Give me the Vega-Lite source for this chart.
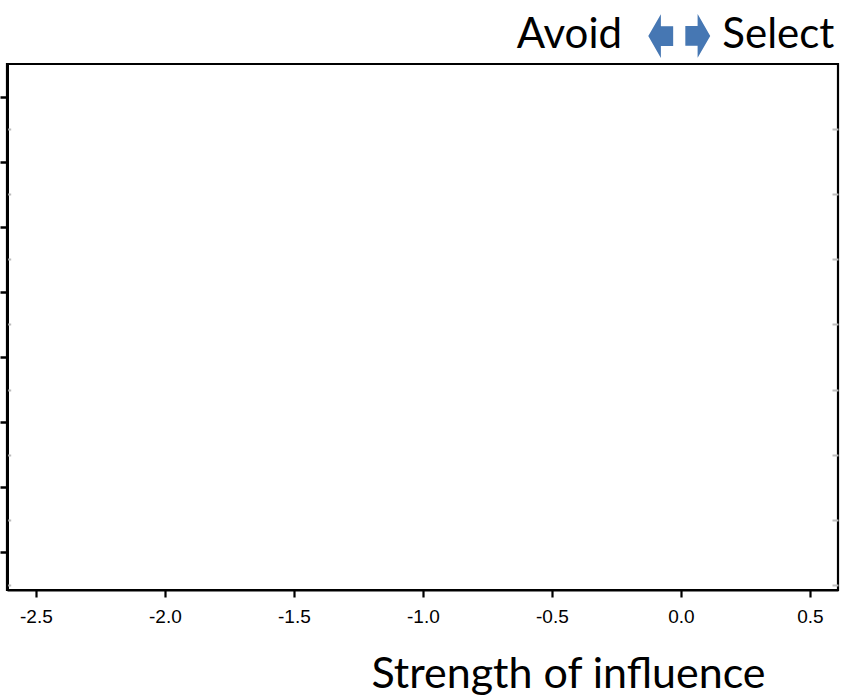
{
  "$schema": "https://vega.github.io/schema/vega-lite/v6.json",
  "width": 831,
  "height": 526,
  "autosize": {"type": "none"},
  "padding": {"left": 7, "top": 64, "right": 7, "bottom": 108},
  "background": "white",
  "config": {
    "view": {"stroke": "black", "strokeWidth": 2.2},
    "axis": {"grid": false}
  },
  "datasets": {
    "rows": [{"row": 1}, {"row": 2}, {"row": 3}, {"row": 4}, {"row": 5}, {"row": 6}, {"row": 7}, {"row": 8}],
    "header": [
      {"pos": -0.434, "text": "Avoid"},
      {"pos": -0.079, "text": "left arrow"},
      {"pos": 0.062, "text": "right arrow"},
      {"pos": 0.376, "text": "Select"}
    ]
  },
  "layer": [
    {
      "data": {"name": "rows"},
      "mark": {"type": "point", "opacity": 0},
      "encoding": {
        "x": {
          "datum": 0,
          "type": "quantitative",
          "scale": {"domain": [-2.612, 0.609], "nice": false, "zero": false},
          "axis": {
            "orient": "bottom",
            "values": [-2.5, -2.0, -1.5, -1.0, -0.5, 0.0, 0.5],
            "labelExpr": "replace(format(datum.value, '.1f'), '\u2212', '-')",
            "domainColor": "black",
            "domainWidth": 2.2,
            "tickColor": "black",
            "tickWidth": 2.2,
            "tickSize": 7,
            "labelFont": "Liberation Sans",
            "labelFontSize": 19,
            "labelColor": "black",
            "labelPadding": 10,
            "labelFlush": false,
            "title": "Strength of influence",
            "titleFont": "Lato",
            "titleFontSize": 43,
            "titleFontWeight": "normal",
            "titleColor": "black",
            "titleX": 561,
            "titleY": 97,
            "titleAlign": "center",
            "titleBaseline": "alphabetic"
          }
        },
        "y": {
          "field": "row",
          "type": "quantitative",
          "scale": {"domain": [0.493, 8.584], "reverse": true, "nice": false, "zero": false},
          "axis": {
            "orient": "left",
            "values": [1, 2, 3, 4, 5, 6, 7, 8],
            "labels": false,
            "title": null,
            "domainColor": "black",
            "domainWidth": 3,
            "tickColor": "black",
            "tickWidth": 2.5,
            "tickSize": 7
          }
        }
      }
    },
    {
      "data": {"name": "rows"},
      "mark": {"type": "point", "opacity": 0},
      "encoding": {
        "x": {
          "datum": 0,
          "type": "quantitative",
          "scale": {"domain": [-2.612, 0.609], "nice": false, "zero": false},
          "axis": null
        },
        "y": {
          "field": "row",
          "type": "quantitative",
          "scale": {"domain": [0.493, 8.584], "reverse": true, "nice": false, "zero": false},
          "axis": {
            "orient": "left",
            "values": [1.5, 2.5, 3.5, 4.5, 5.5, 6.5, 7.5, 8.5],
            "labels": false,
            "title": null,
            "domain": false,
            "offset": -3.7,
            "tickColor": "#bdbdbd",
            "tickWidth": 2,
            "tickSize": 3
          }
        }
      }
    },
    {
      "data": {"name": "rows"},
      "mark": {"type": "point", "opacity": 0},
      "encoding": {
        "x": {
          "datum": 0,
          "type": "quantitative",
          "scale": {"domain": [-2.612, 0.609], "nice": false, "zero": false},
          "axis": null
        },
        "y": {
          "field": "row",
          "type": "quantitative",
          "scale": {"domain": [0.493, 8.584], "reverse": true, "nice": false, "zero": false},
          "axis": {
            "orient": "right",
            "values": [1.5, 2.5, 3.5, 4.5, 5.5, 6.5, 7.5, 8.5],
            "labels": false,
            "title": null,
            "domain": false,
            "offset": -6,
            "tickColor": "#bdbdbd",
            "tickWidth": 2,
            "tickSize": 6
          }
        }
      }
    },
    {
      "data": {"name": "header"},
      "mark": {"type": "point", "opacity": 0},
      "encoding": {
        "x": {
          "field": "pos",
          "type": "quantitative",
          "scale": {"domain": [-2.612, 0.609], "nice": false, "zero": false},
          "axis": {
            "orient": "top",
            "values": [-0.434, 0.376],
            "labelExpr": "datum.value < 0 ? 'Avoid' : 'Select'",
            "domain": false,
            "ticks": false,
            "tickSize": 0,
            "labelPadding": 17,
            "labelBaseline": "alphabetic",
            "labelFlush": false,
            "labelOverlap": false,
            "labelBound": false,
            "labelFont": "Lato",
            "labelFontSize": 42,
            "labelColor": "black",
            "title": null
          }
        }
      }
    },
    {
      "data": {"name": "header"},
      "mark": {"type": "point", "opacity": 0},
      "encoding": {
        "x": {
          "field": "pos",
          "type": "quantitative",
          "scale": {"domain": [-2.612, 0.609], "nice": false, "zero": false},
          "axis": {
            "orient": "top",
            "values": [0.062],
            "labelExpr": "'➧'",
            "domain": false,
            "ticks": false,
            "tickSize": 0,
            "labelPadding": 28,
            "labelAlign": "center",
            "labelBaseline": "middle",
            "labelFlush": false,
            "labelOverlap": false,
            "labelBound": false,
            "labelFont": "DejaVu Sans",
            "labelFontSize": 68,
            "labelColor": "#4677b3",
            "title": null
          }
        }
      }
    },
    {
      "data": {"name": "header"},
      "mark": {"type": "point", "opacity": 0},
      "encoding": {
        "x": {
          "field": "pos",
          "type": "quantitative",
          "scale": {"domain": [-2.612, 0.609], "nice": false, "zero": false},
          "axis": {
            "orient": "top",
            "values": [-0.079],
            "labelExpr": "'➧'",
            "domain": false,
            "ticks": false,
            "tickSize": 0,
            "labelPadding": 30,
            "labelAngle": 180,
            "labelAlign": "center",
            "labelBaseline": "middle",
            "labelFlush": false,
            "labelOverlap": false,
            "labelBound": false,
            "labelFont": "DejaVu Sans",
            "labelFontSize": 68,
            "labelColor": "#4677b3",
            "title": null
          }
        }
      }
    }
  ],
  "resolve": {"axis": {"x": "independent", "y": "independent"}}
}
